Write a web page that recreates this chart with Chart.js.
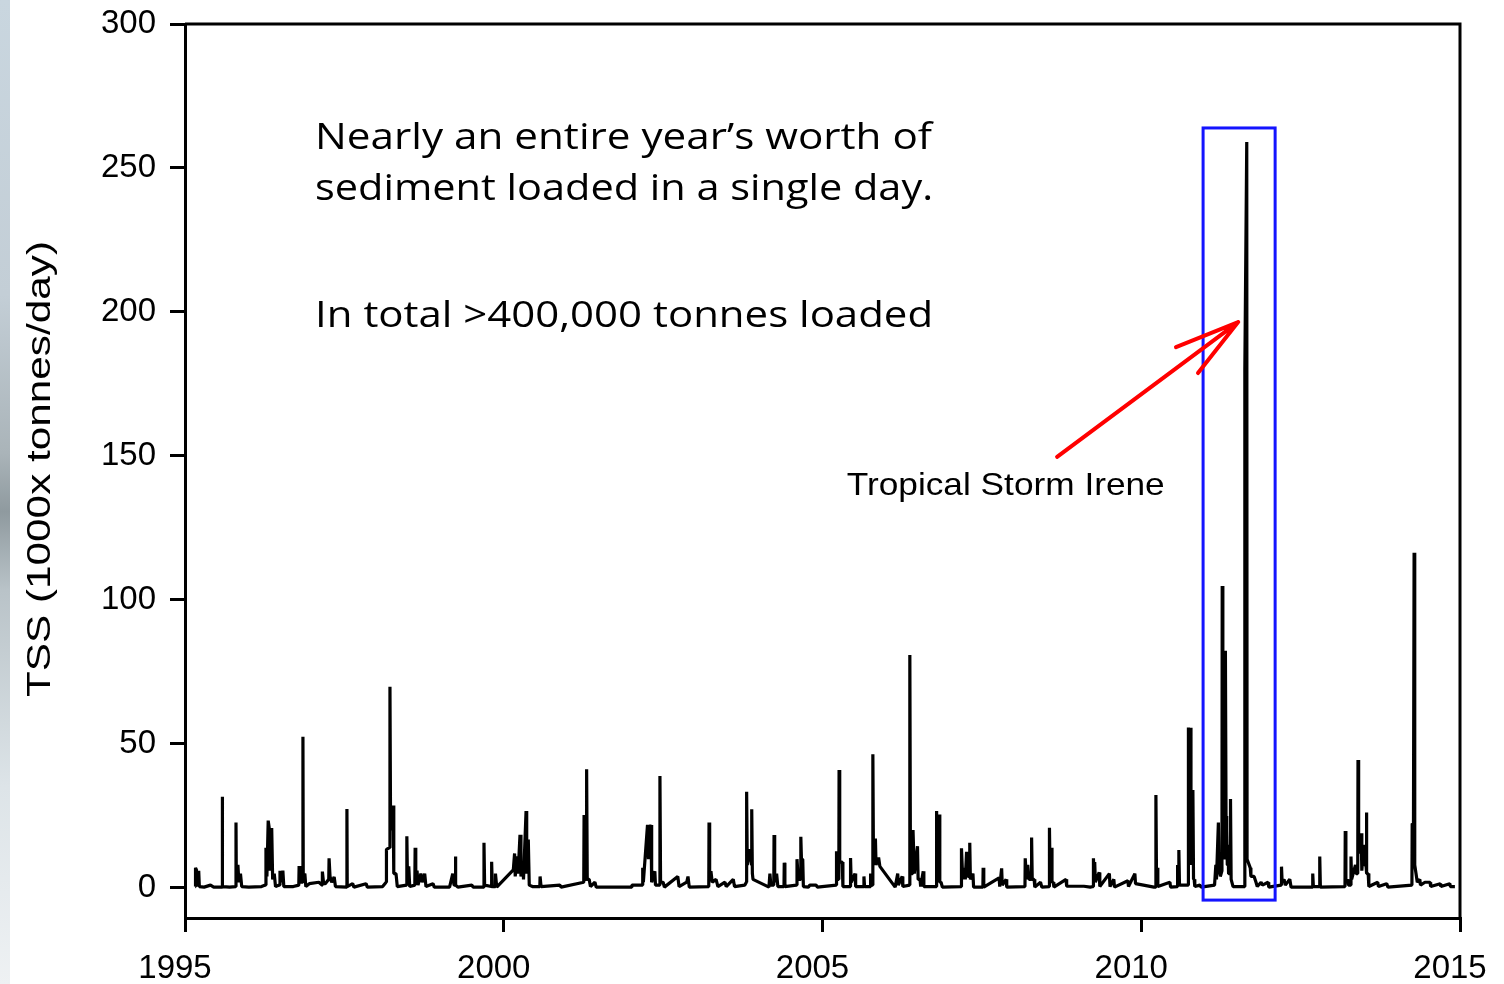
<!DOCTYPE html>
<html lang="en">
  <head>
    <meta charset="UTF-8" />
    <title>TSS load 1995-2015</title>
    <script src="https://cdn.jsdelivr.net/npm/chart.js@4.4.0/dist/chart.umd.min.js"></script>
    <style>
      body { margin: 0; background: #fff; }
      #wrap { position: relative; width: 1504px; height: 984px; }
      #edge {
        position: absolute; left: 0; top: 0; width: 10px; height: 984px;
        background: linear-gradient(#c9d6df 0%, #c3ced6 30%, #aab4b9 46%, #8f9a9f 52%, #b9c3c8 60%, #dde4e8 80%, #eef1f3 100%);
      }
      canvas { position: absolute; left: 0; top: 0; }
    </style>
  </head>
  <body>
    <div id="wrap">
      <div id="edge"></div>
      <canvas id="tss-chart" width="1504" height="984"></canvas>
    </div>
    <script>
      // daily TSS load, [decimal year, 1000 tonnes/day]
      const tss1995to1999 = [
        [1995.16, 0.5], [1995.165, 7], [1995.175, 6.5], [1995.18, 1], [1995.21, 1], [1995.215, 6], [1995.225, 0.5],
        [1995.3, 0.3], [1995.4, 1], [1995.45, 0.3],
        [1995.581, 0.3], [1995.585, 31.7], [1995.589, 0.5], [1995.7, 0.3],
        [1995.796, 0.5], [1995.8, 22.7], [1995.805, 3], [1995.83, 8], [1995.845, 2], [1995.87, 5], [1995.89, 0.5],
        [1996.0, 0.3], [1996.2, 0.5],
        [1996.26, 1], [1996.27, 14], [1996.285, 4], [1996.305, 23.4], [1996.32, 21], [1996.335, 6], [1996.36, 20.8], [1996.375, 3], [1996.4, 5], [1996.42, 0.5],
        [1996.48, 1], [1996.49, 6], [1996.51, 2], [1996.535, 6], [1996.55, 0.5],
        [1996.7, 0.5], [1996.785, 1], [1996.79, 7.6], [1996.8, 2], [1996.846, 2], [1996.85, 52.5], [1996.855, 4], [1996.88, 5], [1996.895, 0.5],
        [1996.95, 1.5], [1997.1, 2], [1997.15, 1],
        [1997.155, 5.7], [1997.175, 1.5], [1997.2, 1.5], [1997.255, 3], [1997.26, 10.3], [1997.275, 4], [1997.3, 2], [1997.34, 3.8], [1997.36, 0.5],
        [1997.536, 0.3], [1997.54, 27.4], [1997.545, 0.5],
        [1997.63, 1.5], [1997.65, 0.3], [1997.84, 1.5], [1997.86, 0.3],
        [1998.1, 0.5], [1998.155, 2], [1998.16, 13.4], [1998.21, 14], [1998.215, 69.9], [1998.225, 20], [1998.265, 28.6], [1998.275, 5], [1998.31, 5], [1998.33, 0.5],
        [1998.476, 1], [1998.48, 18], [1998.49, 3], [1998.51, 7.5], [1998.525, 0.5],
        [1998.605, 1], [1998.61, 14], [1998.62, 3], [1998.64, 6], [1998.655, 1],
        [1998.7, 5], [1998.72, 2], [1998.76, 5], [1998.78, 0.5],
        [1998.89, 1.5], [1998.91, 0.3],
        [1999.15, 0.3], [1999.2, 5], [1999.22, 1], [1999.236, 1], [1999.24, 10.9], [1999.25, 1], [1999.28, 0.3],
        [1999.5, 1], [1999.52, 0.3],
        [1999.686, 0.3], [1999.69, 15.7], [1999.7, 1], [1999.806, 0.5], [1999.81, 9.1], [1999.82, 0.5],
        [1999.866, 0.5], [1999.87, 5], [1999.89, 0.3]
      ];
      const tss2000to2004 = [
        [2000.15, 6.3], [2000.17, 12], [2000.18, 4], [2000.21, 11], [2000.225, 5], [2000.255, 18.5], [2000.27, 4], [2000.3, 8], [2000.31, 3],
        [2000.35, 26.7], [2000.36, 5], [2000.385, 16.8], [2000.4, 1],
        [2000.45, 0.5], [2000.566, 0.5], [2000.57, 4], [2000.585, 0.5],
        [2000.88, 1], [2000.9, 0.3],
        [2001.255, 2], [2001.26, 25.3], [2001.27, 3], [2001.296, 3], [2001.3, 41.2], [2001.31, 3], [2001.34, 3], [2001.36, 0.5],
        [2001.43, 2], [2001.45, 0.3],
        [2002.0, 0.3], [2002.01, 1], [2002.17, 1],
        [2002.18, 7], [2002.19, 2], [2002.255, 21.9], [2002.27, 10], [2002.29, 21], [2002.31, 21.9], [2002.32, 2], [2002.37, 5.8], [2002.38, 1],
        [2002.446, 1], [2002.45, 38.9], [2002.46, 2], [2002.5, 2], [2002.52, 0.3],
        [2002.73, 4], [2002.75, 0.5], [2002.87, 2], [2002.89, 4], [2002.91, 0.3],
        [2003.216, 0.5], [2003.22, 22.7], [2003.23, 3], [2003.25, 5.8], [2003.27, 2], [2003.33, 3], [2003.36, 0.5], [2003.47, 2], [2003.49, 0.5], [2003.6, 3], [2003.62, 0.5],
        [2003.78, 1], [2003.806, 2], [2003.81, 33.4], [2003.82, 8], [2003.86, 13.5], [2003.886, 8], [2003.89, 27.3], [2003.9, 5], [2003.91, 3], [2004.16, 0.3],
        [2004.175, 5], [2004.19, 1], [2004.236, 1], [2004.24, 18.4], [2004.25, 2], [2004.28, 5], [2004.3, 0.5],
        [2004.396, 0.5], [2004.4, 8.8], [2004.41, 0.5],
        [2004.59, 1], [2004.6, 10], [2004.62, 3], [2004.656, 3], [2004.66, 17.8], [2004.67, 10], [2004.69, 10], [2004.7, 0.5],
        [2004.78, 0.3], [2004.8, 1], [2004.9, 1], [2004.92, 0.3]
      ];
      const tss2005to2009 = [
        [2005.216, 1], [2005.22, 12.8], [2005.24, 3], [2005.256, 3], [2005.26, 41], [2005.27, 9], [2005.31, 9], [2005.32, 0.5],
        [2005.436, 0.5], [2005.44, 10.4], [2005.45, 2], [2005.51, 5], [2005.52, 0.5],
        [2005.646, 0.5], [2005.65, 4], [2005.66, 0.5],
        [2005.746, 0.5], [2005.75, 5], [2005.76, 1], [2005.786, 1], [2005.79, 46.4], [2005.8, 8], [2005.83, 17.2], [2005.84, 8], [2005.88, 10.6], [2005.9, 7.5], [2006.14, 0.3],
        [2006.18, 5], [2006.19, 1], [2006.25, 4], [2006.26, 0.5],
        [2006.366, 1], [2006.37, 80.9], [2006.38, 5], [2006.415, 5], [2006.42, 20.1], [2006.44, 5], [2006.49, 14.5], [2006.5, 3], [2006.53, 3], [2006.54, 0.5],
        [2006.58, 5.8], [2006.59, 0.5],
        [2006.786, 0.5], [2006.79, 26.7], [2006.8, 3], [2006.826, 3], [2006.83, 25.5], [2006.84, 2], [2006.86, 2], [2006.88, 0.3],
        [2007.176, 0.5], [2007.18, 13.8], [2007.2, 3], [2007.22, 7], [2007.24, 3], [2007.26, 12.6], [2007.28, 4], [2007.306, 4], [2007.31, 15.7], [2007.32, 3], [2007.36, 5], [2007.37, 0.3],
        [2007.516, 0.3], [2007.52, 7], [2007.53, 0.3],
        [2007.77, 3.5], [2007.78, 0.5], [2007.81, 6.8], [2007.82, 1], [2007.88, 3], [2007.89, 0.3],
        [2008.176, 0.5], [2008.18, 10.3], [2008.2, 3], [2008.22, 8], [2008.24, 3], [2008.276, 3], [2008.28, 17.5], [2008.29, 3], [2008.32, 3], [2008.33, 0.3],
        [2008.42, 2], [2008.44, 0.3],
        [2008.556, 0.5], [2008.56, 20.9], [2008.57, 5], [2008.59, 14], [2008.6, 2], [2008.62, 2], [2008.63, 0.3],
        [2008.82, 3], [2008.83, 0.6], [2009.1, 0.6], [2009.2, 0.3],
        [2009.246, 0.5], [2009.25, 10.3], [2009.26, 4], [2009.27, 9], [2009.28, 2], [2009.34, 5.4], [2009.35, 0.5], [2009.5, 5], [2009.51, 0.5], [2009.57, 3], [2009.58, 0.3],
        [2009.79, 2.5], [2009.8, 0.5], [2009.9, 5], [2009.91, 1.5], [2010.2, 0.3]
      ];
      const tss2010to2014 = [
        [2010.226, 0.3], [2010.23, 32.3], [2010.24, 2], [2010.25, 7], [2010.26, 0.5],
        [2010.45, 2], [2010.46, 0.3],
        [2010.566, 0.5], [2010.57, 8], [2010.58, 3], [2010.59, 13.2], [2010.6, 1],
        [2010.736, 1], [2010.74, 55.7], [2010.75, 50], [2010.77, 55.6], [2010.78, 8], [2010.81, 34], [2010.82, 3], [2010.83, 3], [2010.84, 0.5],
        [2010.92, 1], [2010.94, 0.3],
        [2011.15, 1], [2011.17, 8], [2011.18, 3], [2011.21, 22.7], [2011.22, 5], [2011.23, 10], [2011.24, 4], [2011.266, 6], [2011.27, 104.9], [2011.28, 20],
        [2011.29, 30], [2011.3, 10], [2011.316, 12], [2011.32, 82.4], [2011.33, 25], [2011.34, 20], [2011.35, 8], [2011.36, 15], [2011.37, 5],
        [2011.396, 5], [2011.4, 30.9], [2011.41, 3], [2011.42, 3], [2011.44, 0.5],
        [2011.62, 0.5], [2011.625, 180], [2011.655, 259], [2011.66, 10], [2011.71, 7], [2011.72, 4], [2011.77, 4], [2011.8, 2], [2011.82, 0.5],
        [2011.88, 2], [2011.9, 1], [2011.99, 2], [2012.0, 0.3],
        [2012.196, 1], [2012.2, 7.4], [2012.21, 2], [2012.24, 3], [2012.26, 1], [2012.33, 3], [2012.35, 0.3],
        [2012.686, 0.3], [2012.69, 5], [2012.7, 0.5], [2012.796, 0.5], [2012.8, 10.9], [2012.81, 0.3],
        [2013.196, 0.5], [2013.2, 19.8], [2013.21, 2], [2013.24, 3], [2013.25, 1], [2013.286, 1], [2013.29, 10.9], [2013.3, 3], [2013.36, 8], [2013.37, 5],
        [2013.396, 5], [2013.4, 44.4], [2013.41, 12], [2013.45, 19], [2013.46, 6], [2013.49, 15], [2013.5, 8], [2013.526, 8], [2013.53, 26.2], [2013.54, 5], [2013.56, 5], [2013.57, 0.5],
        [2013.71, 2], [2013.72, 0.5], [2013.85, 1.5], [2013.87, 0.3],
        [2014.246, 1], [2014.25, 22.4], [2014.27, 22], [2014.28, 116.4], [2014.29, 8], [2014.31, 5], [2014.33, 2], [2014.37, 3], [2014.38, 1],
        [2014.45, 2], [2014.53, 2], [2014.54, 0.5], [2014.69, 1.5], [2014.7, 0.5], [2014.84, 1.5], [2014.85, 0.5], [2014.92, 0.5]
      ];

      const yearTicks = [1995, 2000, 2005, 2010, 2015];
      const tssTicks = [0, 50, 100, 150, 200, 250, 300];

      // Irene window and arrow, in axis units
      const ireneBox = { x0: 2010.97, x1: 2012.1, y0: -4.2, y1: 263.9 };
      const arrowTail = [2008.68, 149.7];
      const arrowTip = [2011.52, 196.5];
      const arrowWings = [[2010.545, 187.8], [2010.89, 178.8]];

      const series = [].concat(tss1995to1999, tss2000to2004, tss2005to2009, tss2010to2014)
        .map(([x, y]) => ({ x, y }));

      // draw text squeezed/stretched to a given width
      function fitText(ctx, text, x, y, font, width) {
        ctx.font = font;
        const w = ctx.measureText(text).width;
        ctx.save();
        ctx.translate(x, y);
        ctx.scale(width / w, 1);
        ctx.fillText(text, 0, 0);
        ctx.restore();
      }

      const notes = {
        id: "notes",
        afterDraw(chart) {
          const { ctx, chartArea: a, scales: { x, y } } = chart;
          ctx.save();
          // frame top and right
          ctx.strokeStyle = "#000";
          ctx.lineWidth = 3;
          ctx.beginPath();
          ctx.moveTo(a.left, a.top);
          ctx.lineTo(a.right, a.top);
          ctx.lineTo(a.right, a.bottom);
          ctx.stroke();

          // y title
          ctx.fillStyle = "#000";
          ctx.save();
          ctx.translate(41, 469);
          ctx.rotate(-Math.PI / 2);
          ctx.textAlign = "center";
          ctx.textBaseline = "middle";
          fitText(ctx, "TSS (1000x tonnes/day)", 0, 0, "34px 'Liberation Sans', Arial, sans-serif", 456);
          ctx.restore();

          // Irene box
          ctx.strokeStyle = "#1414ff";
          ctx.lineWidth = 3;
          const bx = x.getPixelForValue(ireneBox.x0);
          const by = y.getPixelForValue(ireneBox.y1);
          ctx.strokeRect(bx, by, x.getPixelForValue(ireneBox.x1) - bx, y.getPixelForValue(ireneBox.y0) - by);

          // arrow
          ctx.strokeStyle = "#ff0000";
          ctx.lineWidth = 4;
          ctx.lineCap = "round";
          const tip = [x.getPixelForValue(arrowTip[0]), y.getPixelForValue(arrowTip[1])];
          ctx.beginPath();
          ctx.moveTo(x.getPixelForValue(arrowTail[0]), y.getPixelForValue(arrowTail[1]));
          ctx.lineTo(tip[0], tip[1]);
          arrowWings.forEach(([wx, wy]) => {
            ctx.moveTo(x.getPixelForValue(wx), y.getPixelForValue(wy));
            ctx.lineTo(tip[0], tip[1]);
          });
          ctx.stroke();

          // annotations
          ctx.fillStyle = "#000";
          ctx.textAlign = "left";
          ctx.textBaseline = "alphabetic";
          const left = x.getPixelForValue(1997.04);
          const big = "500 37px 'Open Sans', 'Noto Sans', sans-serif";
          fitText(ctx, "Nearly an entire year\u2019s worth of", left, y.getPixelForValue(256.6), big, 617);
          fitText(ctx, "sediment loaded in a single day.", left, y.getPixelForValue(238.9), big, 618);
          fitText(ctx, "In total >400,000 tonnes loaded", left, y.getPixelForValue(194.8), big, 618);
          fitText(ctx, "Tropical Storm Irene", x.getPixelForValue(2005.38), y.getPixelForValue(136.5),
            "32px 'Liberation Sans', Arial, sans-serif", 318);
          ctx.restore();
        },
      };

      const tickFont = { family: "'Liberation Sans', Arial, sans-serif", size: 33 };

      new Chart(document.getElementById("tss-chart"), {
        type: "line",
        data: {
          datasets: [
            {
              data: series,
              borderColor: "#000",
              borderWidth: 3.2,
              borderJoinStyle: "bevel",
              pointRadius: 0,
              tension: 0,
              fill: false,
            },
          ],
        },
        options: {
          responsive: false,
          animation: false,
          layout: { padding: { top: 24, right: 44, left: 0, bottom: 0 } },
          plugins: { legend: { display: false }, tooltip: { enabled: false } },
          scales: {
            x: {
              type: "linear",
              min: 1995,
              max: 2015,
              afterBuildTicks: (s) => { s.ticks = yearTicks.map((v) => ({ value: v })); },
              afterFit: (s) => { s.height = 66; s.paddingLeft = 0; s.paddingRight = 0; },
              ticks: { color: "#000", font: tickFont, padding: 17, labelOffset: -10, maxRotation: 0, callback: (v) => String(v) },
              grid: { drawOnChartArea: false, tickLength: 14, lineWidth: 3, color: "#000" },
              border: { color: "#000", width: 3 },
            },
            y: {
              min: -10.42,
              max: 300,
              afterBuildTicks: (s) => { s.ticks = tssTicks.map((v) => ({ value: v })); },
              afterFit: (s) => { s.width = 185; s.paddingTop = 0; s.paddingBottom = 0; },
              ticks: { color: "#000", font: tickFont, padding: 14, callback: (v) => String(v) },
              grid: { drawOnChartArea: false, tickLength: 15, lineWidth: 3, color: "#000" },
              border: { color: "#000", width: 3 },
            },
          },
        },
        plugins: [notes],
      });
    </script>
  </body>
</html>
